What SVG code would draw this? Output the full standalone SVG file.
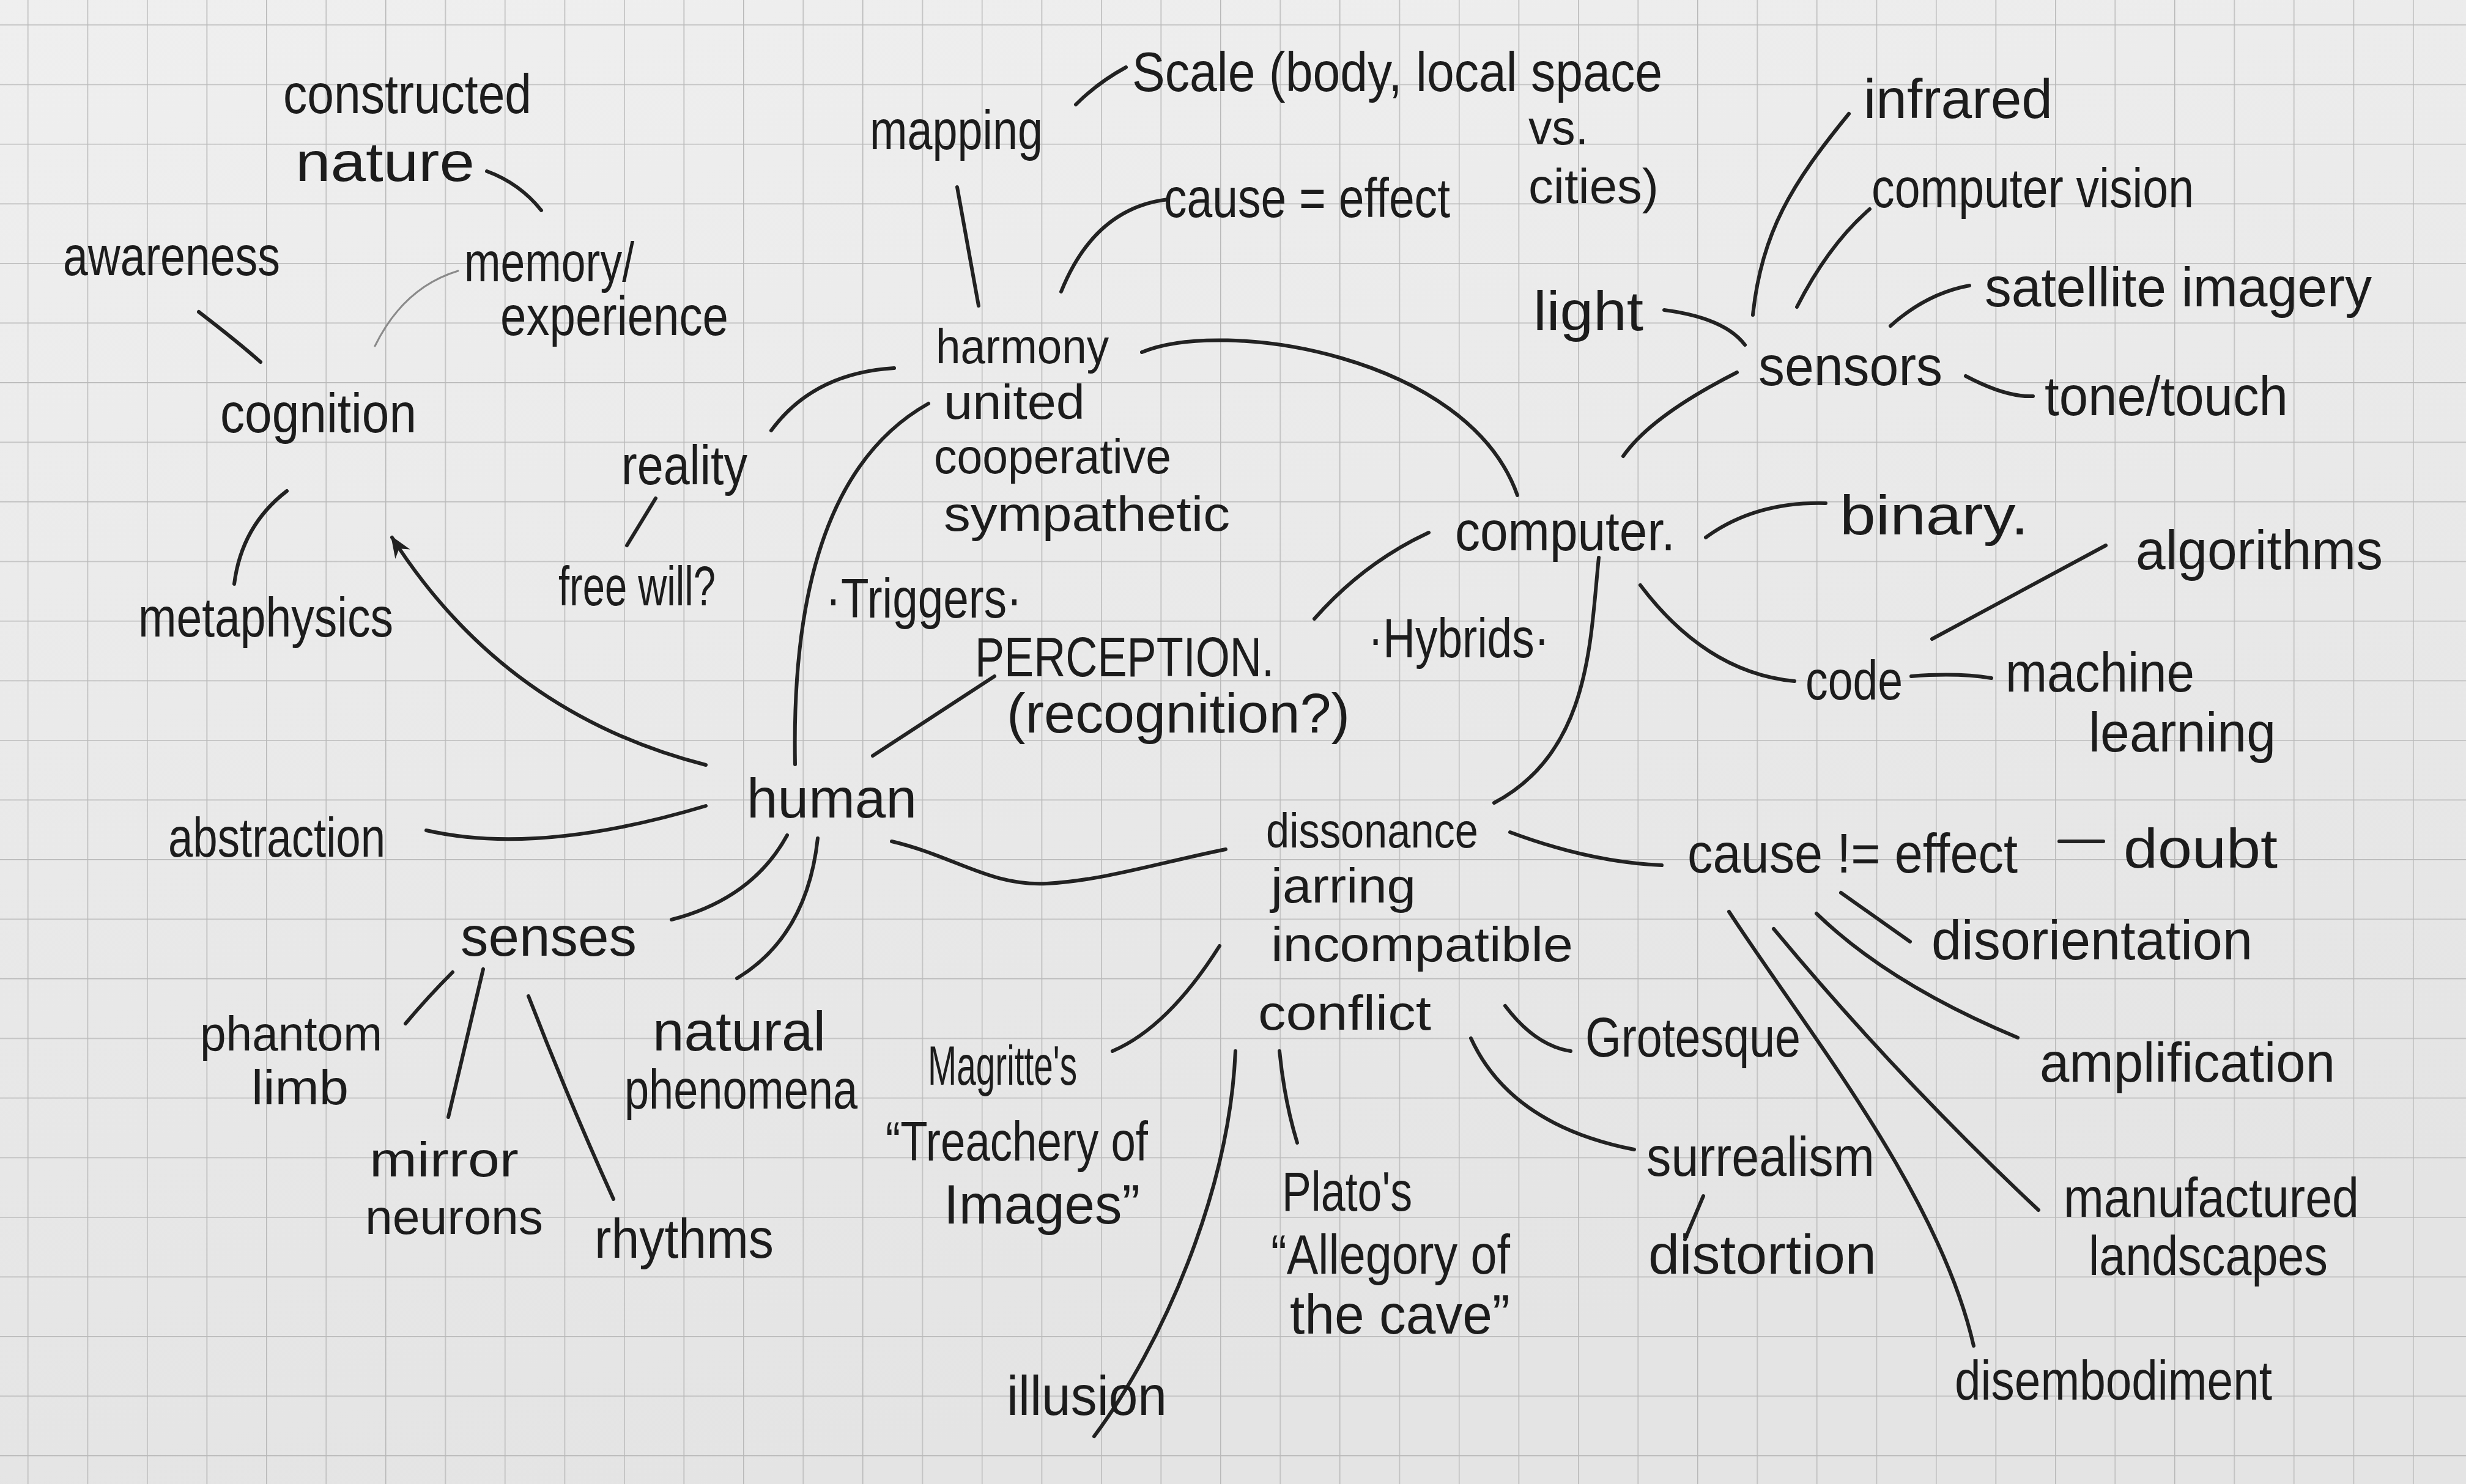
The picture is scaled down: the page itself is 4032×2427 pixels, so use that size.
<svg xmlns="http://www.w3.org/2000/svg" width="4032" height="2427" viewBox="0 0 4032 2427">
<defs>
<linearGradient id="paper" x1="0" y1="0" x2="0.3" y2="1">
<stop offset="0" stop-color="#efefef"/>
<stop offset="1" stop-color="#e4e4e4"/>
</linearGradient>
<pattern id="grid" x="45" y="40" width="97.5" height="97.5" patternUnits="userSpaceOnUse">
<path d="M0 0 H97.5 M0 0 V97.5" fill="none" stroke="#b9b9b9" stroke-width="3"/>
</pattern>
<marker id="arrow" viewBox="0 0 10 10" refX="9" refY="5" markerWidth="6" markerHeight="6" orient="auto" markerUnits="strokeWidth">
<path d="M0 1 L10 5 L0 9 L3 5 Z" fill="#222"/>
</marker>
<style>
.t{font-family:"Liberation Sans","DejaVu Sans",sans-serif;font-size:90px;fill:#1c1c1c;}
.s{font-size:80px;}
.c{fill:none;stroke:#222;stroke-width:6;stroke-linecap:round;stroke-linejoin:round;}
.g{fill:none;stroke:#8a8a8a;stroke-width:3;stroke-linecap:round;}
</style>
</defs>
<rect width="4032" height="2427" fill="url(#paper)"/>
<rect width="4032" height="2427" fill="url(#grid)"/>

<g id="connectors">
<path class="c" d="M796 280 Q850 300 885 344"/>
<path class="c" d="M325 510 Q390 560 426 592"/>
<path class="g" d="M613 566 Q660 470 749 443"/>
<path class="c" d="M469 803 Q395 860 383 955"/>
<path class="c" d="M1154 1251 Q825 1167 641 879" marker-end="url(#arrow)"/>
<path class="c" d="M697 1358 Q880 1400 1154 1318"/>
<path class="c" d="M1287 1366 Q1230 1470 1098 1504"/>
<path class="c" d="M1337 1371 Q1320 1530 1205 1600"/>
<path class="c" d="M740 1590 Q700 1630 663 1674"/>
<path class="c" d="M790 1585 L733 1827"/>
<path class="c" d="M864 1629 Q930 1800 1003 1961"/>
<path class="c" d="M1261 704 Q1330 610 1462 602"/>
<path class="c" d="M1072 815 L1025 892"/>
<path class="c" d="M1300 1250 C1295 1000 1340 760 1518 660"/>
<path class="c" d="M1565 306 L1600 500"/>
<path class="c" d="M1759 171 Q1795 135 1841 110"/>
<path class="c" d="M1735 477 Q1790 340 1910 326"/>
<path class="c" d="M1867 576 C2000 520 2400 580 2481 810"/>
<path class="c" d="M1427 1236 L1626 1106"/>
<path class="c" d="M2149 1012 Q2230 920 2336 871"/>
<path class="c" d="M2614 912 C2600 1050 2600 1230 2443 1313"/>
<path class="c" d="M1458 1376 C1560 1400 1620 1450 1712 1445 S1900 1410 2004 1389"/>
<path class="c" d="M2469 1361 Q2600 1410 2717 1415"/>
<path class="c" d="M1994 1547 Q1910 1680 1819 1719"/>
<path class="c" d="M2020 1719 C2010 1950 1900 2200 1789 2349"/>
<path class="c" d="M2092 1719 Q2100 1800 2121 1869"/>
<path class="c" d="M2461 1645 Q2510 1710 2568 1719"/>
<path class="c" d="M2405 1698 Q2470 1840 2672 1880"/>
<path class="c" d="M2785 1956 L2755 2027"/>
<path class="c" d="M2654 746 Q2700 680 2840 609"/>
<path class="c" d="M2721 507 Q2820 520 2853 564"/>
<path class="c" d="M2866 515 C2880 380 2930 300 3023 186"/>
<path class="c" d="M2938 502 Q2990 400 3057 342"/>
<path class="c" d="M3091 533 Q3150 480 3220 467"/>
<path class="c" d="M3214 615 Q3280 650 3324 648"/>
<path class="c" d="M2789 879 Q2870 820 2985 823"/>
<path class="c" d="M2682 957 Q2790 1100 2934 1114"/>
<path class="c" d="M3159 1045 L3443 892"/>
<path class="c" d="M3125 1106 Q3200 1100 3256 1109"/>
<path class="c" d="M3367 1376 L3439 1376"/>
<path class="c" d="M3010 1460 L3123 1540"/>
<path class="c" d="M2970 1494 Q3090 1610 3299 1697"/>
<path class="c" d="M2900 1519 Q3100 1760 3333 1979"/>
<path class="c" d="M2827 1491 C2950 1680 3170 1950 3227 2201"/>
</g>

<g id="constructed-nature"><text class="t" x="463" y="185" textLength="406" lengthAdjust="spacingAndGlyphs">constructed</text><text class="t" x="483" y="296" textLength="293" lengthAdjust="spacingAndGlyphs">nature</text></g>
<g id="awareness"><text class="t" x="103" y="450" textLength="355" lengthAdjust="spacingAndGlyphs">awareness</text></g>
<g id="memory"><text class="t" x="759" y="460" textLength="278" lengthAdjust="spacingAndGlyphs">memory/</text><text class="t" x="818" y="548" textLength="373" lengthAdjust="spacingAndGlyphs">experience</text></g>
<g id="cognition"><text class="t" x="360" y="707" textLength="321" lengthAdjust="spacingAndGlyphs">cognition</text></g>
<g id="reality"><text class="t" x="1016" y="792" textLength="206" lengthAdjust="spacingAndGlyphs">reality</text></g>
<g id="free-will"><text class="t" x="913" y="990" textLength="257" lengthAdjust="spacingAndGlyphs">free will?</text></g>
<g id="metaphysics"><text class="t" x="226" y="1041" textLength="417" lengthAdjust="spacingAndGlyphs">metaphysics</text></g>
<g id="triggers"><text class="t" x="1350" y="1010" textLength="321" lengthAdjust="spacingAndGlyphs">·Triggers·</text></g>
<g id="abstraction"><text class="t" x="275" y="1401" textLength="355" lengthAdjust="spacingAndGlyphs">abstraction</text></g>
<g id="human"><text class="t" x="1221" y="1337" textLength="278" lengthAdjust="spacingAndGlyphs">human</text></g>
<g id="senses"><text class="t" x="753" y="1563" textLength="288" lengthAdjust="spacingAndGlyphs">senses</text></g>
<g id="phantom-limb"><text class="t s" x="327" y="1718" textLength="298" lengthAdjust="spacingAndGlyphs">phantom</text><text class="t s" x="411" y="1806" textLength="159" lengthAdjust="spacingAndGlyphs">limb</text></g>
<g id="mirror-neurons"><text class="t s" x="604" y="1924" textLength="244" lengthAdjust="spacingAndGlyphs">mirror</text><text class="t s" x="597" y="2018" textLength="291" lengthAdjust="spacingAndGlyphs">neurons</text></g>
<g id="rhythms"><text class="t" x="972" y="2057" textLength="293" lengthAdjust="spacingAndGlyphs">rhythms</text></g>
<g id="natural-phenomena"><text class="t" x="1067" y="1718" textLength="283" lengthAdjust="spacingAndGlyphs">natural</text><text class="t" x="1021" y="1813" textLength="381" lengthAdjust="spacingAndGlyphs">phenomena</text></g>
<g id="mapping"><text class="t" x="1422" y="244" textLength="283" lengthAdjust="spacingAndGlyphs">mapping</text></g>
<g id="scale"><text class="t" x="1851" y="149" textLength="867" lengthAdjust="spacingAndGlyphs">Scale (body, local space</text><text class="t s" x="2499" y="236" textLength="98" lengthAdjust="spacingAndGlyphs">vs.</text><text class="t s" x="2499" y="332" textLength="213" lengthAdjust="spacingAndGlyphs">cities)</text></g>
<g id="cause-equals-effect"><text class="t" x="1903" y="355" textLength="468" lengthAdjust="spacingAndGlyphs">cause = effect</text></g>
<g id="harmony"><text class="t s" x="1530" y="594" textLength="283" lengthAdjust="spacingAndGlyphs">harmony</text><text class="t s" x="1543" y="685" textLength="231" lengthAdjust="spacingAndGlyphs">united</text><text class="t s" x="1527" y="774" textLength="388" lengthAdjust="spacingAndGlyphs">cooperative</text><text class="t s" x="1543" y="868" textLength="468" lengthAdjust="spacingAndGlyphs">sympathetic</text></g>
<g id="perception"><text class="t" x="1594" y="1106" textLength="489" lengthAdjust="spacingAndGlyphs">PERCEPTION.</text><text class="t" x="1646" y="1198" textLength="561" lengthAdjust="spacingAndGlyphs">(recognition?)</text></g>
<g id="hybrids"><text class="t" x="2237" y="1075" textLength="296" lengthAdjust="spacingAndGlyphs">·Hybrids·</text></g>
<g id="computer"><text class="t" x="2379" y="900" textLength="360" lengthAdjust="spacingAndGlyphs">computer.</text></g>
<g id="light"><text class="t" x="2507" y="540" textLength="180" lengthAdjust="spacingAndGlyphs">light</text></g>
<g id="sensors"><text class="t" x="2875" y="630" textLength="301" lengthAdjust="spacingAndGlyphs">sensors</text></g>
<g id="infrared"><text class="t" x="3047" y="193" textLength="309" lengthAdjust="spacingAndGlyphs">infrared</text></g>
<g id="computer-vision"><text class="t" x="3060" y="339" textLength="527" lengthAdjust="spacingAndGlyphs">computer vision</text></g>
<g id="satellite-imagery"><text class="t" x="3245" y="501" textLength="633" lengthAdjust="spacingAndGlyphs">satellite imagery</text></g>
<g id="tone-touch"><text class="t" x="3343" y="679" textLength="398" lengthAdjust="spacingAndGlyphs">tone/touch</text></g>
<g id="binary"><text class="t" x="3008" y="874" textLength="309" lengthAdjust="spacingAndGlyphs">binary.</text></g>
<g id="algorithms"><text class="t" x="3492" y="931" textLength="404" lengthAdjust="spacingAndGlyphs">algorithms</text></g>
<g id="code"><text class="t" x="2952" y="1144" textLength="159" lengthAdjust="spacingAndGlyphs">code</text></g>
<g id="machine-learning"><text class="t" x="3279" y="1131" textLength="309" lengthAdjust="spacingAndGlyphs">machine</text><text class="t" x="3415" y="1229" textLength="306" lengthAdjust="spacingAndGlyphs">learning</text></g>
<g id="dissonance"><text class="t s" x="2070" y="1386" textLength="347" lengthAdjust="spacingAndGlyphs">dissonance</text><text class="t s" x="2078" y="1476" textLength="237" lengthAdjust="spacingAndGlyphs">jarring</text><text class="t s" x="2078" y="1572" textLength="494" lengthAdjust="spacingAndGlyphs">incompatible</text><text class="t s" x="2057" y="1684" textLength="283" lengthAdjust="spacingAndGlyphs">conflict</text></g>
<g id="cause-not-effect"><text class="t" x="2759" y="1427" textLength="540" lengthAdjust="spacingAndGlyphs">cause != effect</text></g>
<g id="doubt"><text class="t" x="3472" y="1419" textLength="252" lengthAdjust="spacingAndGlyphs">doubt</text></g>
<g id="disorientation"><text class="t" x="3158" y="1569" textLength="525" lengthAdjust="spacingAndGlyphs">disorientation</text></g>
<g id="amplification"><text class="t" x="3335" y="1769" textLength="483" lengthAdjust="spacingAndGlyphs">amplification</text></g>
<g id="manufactured-landscapes"><text class="t" x="3374" y="1990" textLength="483" lengthAdjust="spacingAndGlyphs">manufactured</text><text class="t" x="3415" y="2085" textLength="391" lengthAdjust="spacingAndGlyphs">landscapes</text></g>
<g id="disembodiment"><text class="t" x="3196" y="2289" textLength="519" lengthAdjust="spacingAndGlyphs">disembodiment</text></g>
<g id="grotesque"><text class="t" x="2592" y="1728" textLength="352" lengthAdjust="spacingAndGlyphs">Grotesque</text></g>
<g id="surrealism"><text class="t" x="2692" y="1923" textLength="373" lengthAdjust="spacingAndGlyphs">surrealism</text></g>
<g id="distortion"><text class="t" x="2695" y="2083" textLength="373" lengthAdjust="spacingAndGlyphs">distortion</text></g>
<g id="magritte"><text class="t" x="1517" y="1774" textLength="244" lengthAdjust="spacingAndGlyphs">Magritte's</text><text class="t" x="1448" y="1898" textLength="429" lengthAdjust="spacingAndGlyphs">“Treachery of</text><text class="t" x="1543" y="2001" textLength="321" lengthAdjust="spacingAndGlyphs">Images”</text></g>
<g id="plato"><text class="t" x="2096" y="1980" textLength="213" lengthAdjust="spacingAndGlyphs">Plato's</text><text class="t" x="2078" y="2083" textLength="391" lengthAdjust="spacingAndGlyphs">“Allegory of</text><text class="t" x="2109" y="2181" textLength="360" lengthAdjust="spacingAndGlyphs">the cave”</text></g>
<g id="illusion"><text class="t" x="1646" y="2314" textLength="262" lengthAdjust="spacingAndGlyphs">illusion</text></g>
</svg>
